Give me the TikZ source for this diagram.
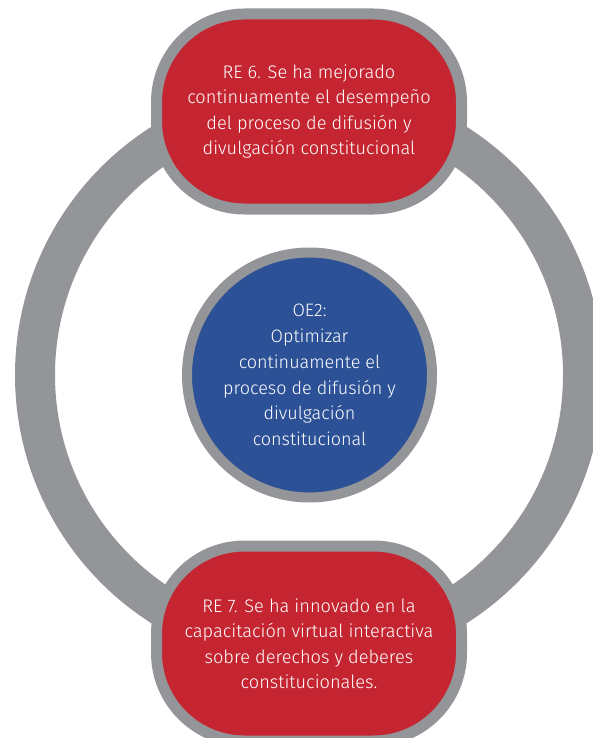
\documentclass[tikz,border=0pt]{standalone}
\usepackage{fontspec}
\setmainfont{Fira Sans Light}
\definecolor{ringgray}{RGB}{147,149,152}
\definecolor{pillred}{RGB}{196,37,49}
\definecolor{coreblue}{RGB}{44,81,150}
\tikzset{
  pill/.style={fill=pillred, draw=ringgray, line width=11pt, rounded corners=88pt,
    minimum width=305pt, minimum height=195pt, text=white, align=center,
    font=\fontsize{18.2}{25.5}\selectfont, inner sep=0pt},
  core/.style={circle, fill=coreblue, draw=ringgray, line width=10pt,
    minimum size=245pt, text=white, align=center,
    font=\fontsize{18}{25.8}\selectfont, inner sep=0pt},
  bigring/.style={draw=ringgray, line width=40pt}
}
\begin{document}
\begin{tikzpicture}[x=1pt,y=-1pt]
\useasboundingbox (0,0) rectangle (593,738);
\clip (0,0) rectangle (593,738);
\coordinate (c) at (309,375);
\draw[bigring] (c) circle[radius=274];
\node[core] (oe) at (309.5,375) {OE2:\\Optimizar\\continuamente el\\proceso de difusión y\\divulgación\\constitucional};
\node[pill] (re6) at (309,111.5) {RE 6. Se ha mejorado\\continuamente el desempeño\\del proceso de difusión y\\divulgación constitucional};
\node[pill] (re7) at (309,643.5) {RE 7. Se ha innovado en la\\capacitación virtual interactiva\\sobre derechos y deberes\\constitucionales.};
\end{tikzpicture}
\end{document}
